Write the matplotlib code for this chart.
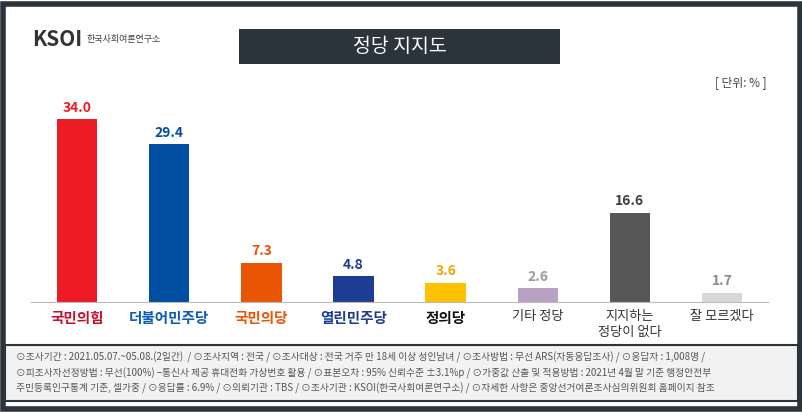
import matplotlib.pyplot as plt
from matplotlib import font_manager
from matplotlib.patches import Rectangle

names = {f.name for f in font_manager.fontManager.ttflist}
cjk = [n for n in ["Noto Sans CJK KR", "Noto Sans CJK JP", "Noto Sans CJK SC", "Noto Sans CJK TC"] if n in names]
plt.rcParams["font.family"] = cjk + ["DejaVu Sans"]

categories = ["국민의힘", "더불어민주당", "국민의당", "열린민주당", "정의당", "기타 정당", "지지하는\n정당이 없다", "잘 모르겠다"]
values = [34.0, 29.4, 7.3, 4.8, 3.6, 2.6, 16.6, 1.7]
bar_colors = ["#ed1c24", "#004ea2", "#ea5504", "#1d3c94", "#ffc000", "#b8a2c4", "#575757", "#d8d8d8"]
value_colors = ["#ed1c24", "#004ea2", "#ea5504", "#1d3c94", "#f0a500", "#9a9a9a", "#404040", "#8a8a8a"]
label_colors = ["#c8102e", "#0a5bb5", "#ea5504", "#1d3c94", "#111111", "#333333", "#333333", "#333333"]
label_bold = [True, True, True, True, True, False, False, False]

footer = ("⊙조사기간 : 2021.05.07.~05.08.(2일간)  / ⊙조사지역 : 전국 / ⊙조사대상 : 전국 거주 만 18세 이상 성인남녀 / ⊙조사방법 : 무선 ARS(자동응답조사) / ⊙응답자 : 1,008명 /\n"
          "⊙피조사자선정방법 : 무선(100%) –통신사 제공 휴대전화 가상번호 활용 / ⊙표본오차 : 95% 신뢰수준 ±3.1%p / ⊙가중값 산출 및 적용방법 : 2021년 4월 말 기준 행정안전부\n"
          "주민등록인구통계 기준, 셀가중 / ⊙응답률 : 6.9% / ⊙의뢰기관 : TBS / ⊙조사기관 : KSOI(한국사회여론연구소) / ⊙자세한 사항은 중앙선거여론조사심의위원회 홈페이지 참조")

fig = plt.figure(figsize=(8.03, 4.13), dpi=100)
fig.patch.set_facecolor("white")

# outer frame
fig.patches.append(Rectangle((0.004, 0.01), 0.992, 0.98, transform=fig.transFigure,
                             fill=False, edgecolor="#2b333b", linewidth=4))
# footer box
fig.patches.append(Rectangle((0.006, 0.03), 0.988, 0.135, transform=fig.transFigure,
                             facecolor="#f2f2f2", edgecolor="#2b333b", linewidth=1.5))
fig.text(0.02, 0.097, footer, fontsize=7.0, color="#555555", va="center", linespacing=1.5)

# title box
fig.patches.append(Rectangle((0.298, 0.845), 0.40, 0.085, transform=fig.transFigure,
                             facecolor="#2b333b", edgecolor="none"))
fig.text(0.498, 0.887, "정당 지지도", fontsize=14, color="white", ha="center", va="center")

# logo
fig.text(0.04, 0.905, "KSOI", fontsize=15, fontweight="bold", color="#333333", va="center")
fig.text(0.108, 0.905, "한국사회여론연구소", fontsize=6.5, color="#444444", va="center")
fig.text(0.955, 0.80, "[ 단위: % ]", fontsize=8.5, color="#444444", ha="right", va="center")

ax = fig.add_axes([0.0386, 0.269, 0.918, 0.52])
x = list(range(len(categories)))
ax.bar(x, values, width=0.44, color=bar_colors)
for xi, v, c in zip(x, values, value_colors):
    ax.text(xi, v + 0.8, f"{v:.1f}", ha="center", va="bottom", fontsize=10, fontweight="bold", color=c)
ax.set_xlim(-0.5, len(categories) - 0.5)
ax.set_ylim(0, 40)
ax.set_xticks(x)
ax.set_xticklabels([])
for xi, lab, c, b in zip(x, categories, label_colors, label_bold):
    ax.text(xi, -1.5, lab, ha="center", va="top", fontsize=10.5 if b else 9.5,
            fontweight="bold" if b else "normal", color=c, linespacing=1.3)
ax.tick_params(length=0)
ax.set_yticks([])
for s in ["top", "right", "left"]:
    ax.spines[s].set_visible(False)
ax.spines["bottom"].set_color("#bbbbbb")

fig.savefig("out.png", dpi=100)
